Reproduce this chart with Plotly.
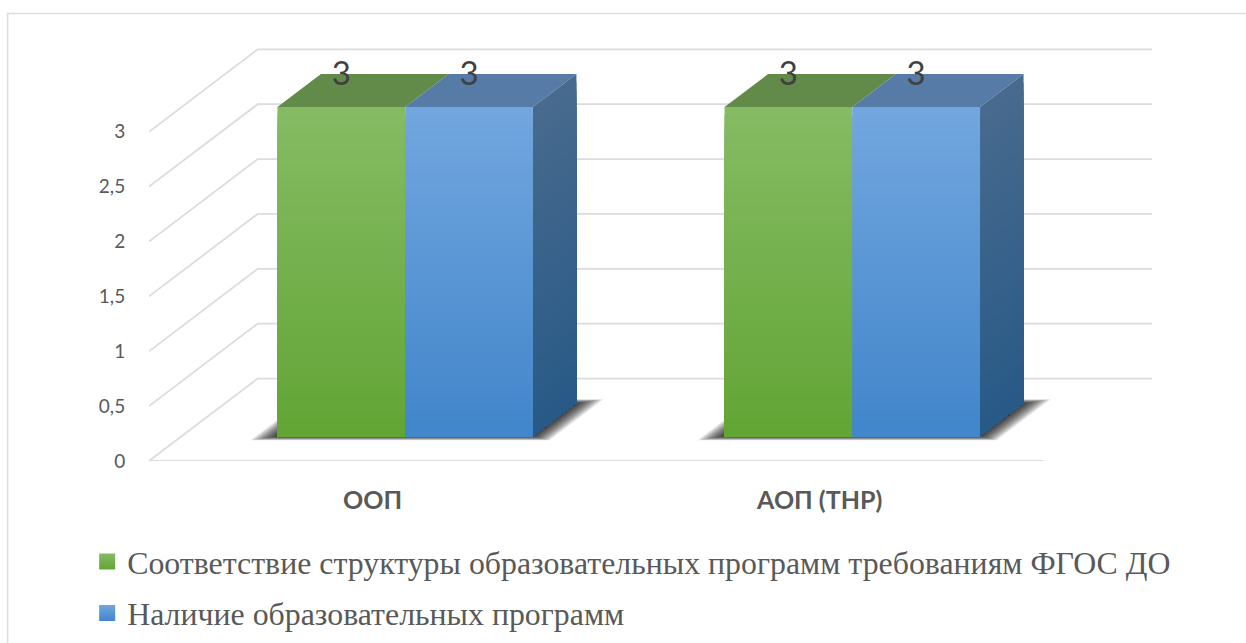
import plotly.graph_objects as go

categories = ["ООП", "АОП (ТНР)"]
series_names = [
    "Соответствие структуры образовательных программ требованиям ФГОС ДО",
    "Наличие образовательных программ",
]
series_a = [3, 3]
series_b = [3, 3]
y_ticks = [0, 0.5, 1, 1.5, 2, 2.5, 3]
y_tick_labels = ["0", "0,5", "1", "1,5", "2", "2,5", "3"]

W, H = 1246, 643
LEFT, BASE = 149.3, 460.7          # page px of the front floor corner
CAT_PX, UNIT_PX = 447.0, 109.67    # px per category, px per value unit
DX, DY = 108.7 / CAT_PX, 82.4 / UNIT_PX   # oblique projection of full depth
BAR_W = 1 / 3.5
Z0, Z1 = 0.3, 0.7
LABEL_Z = 0.664
N_GRAD = 40


def proj(x, y, z):
    return x + z * DX, y + z * DY


def lerp(c0, c1, t):
    return "rgb(%d,%d,%d)" % tuple(round(a + (b - a) * t) for a, b in zip(c0, c1))


def poly(fig, pts, color):
    xs, ys = zip(*pts)
    fig.add_trace(go.Scatter(
        x=list(xs) + [xs[0]], y=list(ys) + [ys[0]], mode="lines", fill="toself",
        fillcolor=color, line=dict(width=0, color="rgba(0,0,0,0)"),
        hoverinfo="skip", showlegend=False))


GREEN_F = ((133, 187, 99), (99, 165, 53))
BLUE_F = ((113, 166, 222), (66, 134, 203))
BLUE_S = ((72, 106, 142), (40, 90, 135))
GREEN_T = "#628B4A"
BLUE_T = "#557BA6"
GRID = "#DCDCDC"

fig = go.Figure()

# gridlines: front edge -> back wall -> right end
x_end = len(categories)
gx, gy = [], []
for v in y_ticks:
    a, b = proj(0, v, 0), proj(0, v, 1)
    c = proj(x_end, v, 1)
    gx += [a[0], b[0], c[0], None]
    gy += [a[1], b[1], c[1], None]
gx += [0, x_end, None]
gy += [0, 0, None]
fig.add_trace(go.Scatter(x=gx, y=gy, mode="lines", line=dict(color=GRID, width=1.8),
                         hoverinfo="skip", showlegend=False))

label_x, label_y, label_t = [], [], []
for i, _ in enumerate(categories):
    c = i + 0.5
    va, vb = series_a[i], series_b[i]
    # floor shadow: stacked soft parallelograms
    n_sh = 30
    for k in range(n_sh, 0, -1):
        t = k / n_sh
        ex, ez = t * 0.05, t * 0.05
        l, r, z0, z1 = c - BAR_W - ex, c + BAR_W + ex, Z0 - ez, Z1 + ez
        poly(fig, [proj(l, 0, z0), proj(r, 0, z0), proj(r, 0, z1), proj(l, 0, z1)],
             "rgba(0,0,0,0.04)")
    # top faces
    poly(fig, [proj(c - BAR_W, va, Z0), proj(c, va, Z0), proj(c, va, Z1), proj(c - BAR_W, va, Z1)], GREEN_T)
    poly(fig, [proj(c, vb, Z0), proj(c + BAR_W, vb, Z0), proj(c + BAR_W, vb, Z1), proj(c, vb, Z1)], BLUE_T)
    # gradient faces painted top to bottom, each overlapping the rest
    for k in range(N_GRAD):
        t = k / (N_GRAD - 1)
        f = 1 - k / N_GRAD
        poly(fig, [proj(c + BAR_W, vb * f, Z0), proj(c + BAR_W, vb * f, Z1),
                   proj(c + BAR_W, 0, Z1), proj(c + BAR_W, 0, Z0)], lerp(*BLUE_S, t))
        poly(fig, [proj(c - BAR_W, va * f, Z0), proj(c, va * f, Z0),
                   proj(c, 0, Z0), proj(c - BAR_W, 0, Z0)], lerp(*GREEN_F, t))
        poly(fig, [proj(c, vb * f, Z0), proj(c + BAR_W, vb * f, Z0),
                   proj(c + BAR_W, 0, Z0), proj(c, 0, Z0)], lerp(*BLUE_F, t))
    for x0, v in ((c - BAR_W / 2, va), (c + BAR_W / 2, vb)):
        label_x.append(proj(x0, v, Z0)[0])
        label_y.append(proj(x0, v, LABEL_Z)[1])
        label_t.append(str(v))

fig.add_trace(go.Scatter(x=label_x, y=label_y, text=label_t, mode="text",
                         textposition="middle center",
                         textfont=dict(family="Lato", size=33, color="#404040"),
                         cliponaxis=False, hoverinfo="skip", showlegend=False))

# legend entries
for name, cols in zip(series_names, (GREEN_F, BLUE_F)):
    fig.add_trace(go.Scatter(
        x=[None], y=[None], mode="markers", name=name, legendgroup=name,
        marker=dict(symbol="square", size=17, color=lerp(cols[0], cols[0], 0),
                    gradient=dict(type="vertical", color=lerp(cols[1], cols[1], 0)))))

fig.update_layout(
    width=W, height=H,
    margin=dict(l=LEFT, r=0, t=0, b=H - BASE, autoexpand=False),
    paper_bgcolor="white", plot_bgcolor="white",
    showlegend=True,
    legend=dict(x=(87.5 - LEFT) / (W - LEFT), y=(BASE - 534) / BASE, xanchor="left", yanchor="top",
                font=dict(family="Liberation Serif", size=31.85, color="#595959"),
                tracegroupgap=7, bgcolor="rgba(0,0,0,0)", traceorder="grouped"),
    xaxis=dict(range=[0, (W - LEFT) / CAT_PX], tickvals=[i + 0.5 for i in range(len(categories))],
               ticktext=categories, showgrid=False, zeroline=False, showline=False,
               ticks="outside", ticklen=17, tickcolor="rgba(0,0,0,0)",
               tickfont=dict(family="Lato", size=25, color="#595959", weight="bold")),
    yaxis=dict(range=[0, BASE / UNIT_PX], tickvals=y_ticks, ticktext=y_tick_labels,
               showgrid=False, zeroline=False, showline=False,
               ticks="outside", ticklen=19, tickcolor="rgba(0,0,0,0)",
               tickfont=dict(family="Lato", size=19, color="#595959")),
    shapes=[dict(type="path", xref="paper", yref="paper",
                 path="M %f,%f L %f,%f L %f,%f" % (
                     (8 - LEFT) / (W - LEFT), (BASE - H) / BASE,
                     (8 - LEFT) / (W - LEFT), (BASE - 13.5) / BASE,
                     1, (BASE - 13.5) / BASE),
                 line=dict(color="#DEDEDE", width=1.6))],
)

fig.write_html("out.html", config={"displayModeBar": False},
               post_script="document.body.style.margin='0';document.body.style.overflow='hidden';")
